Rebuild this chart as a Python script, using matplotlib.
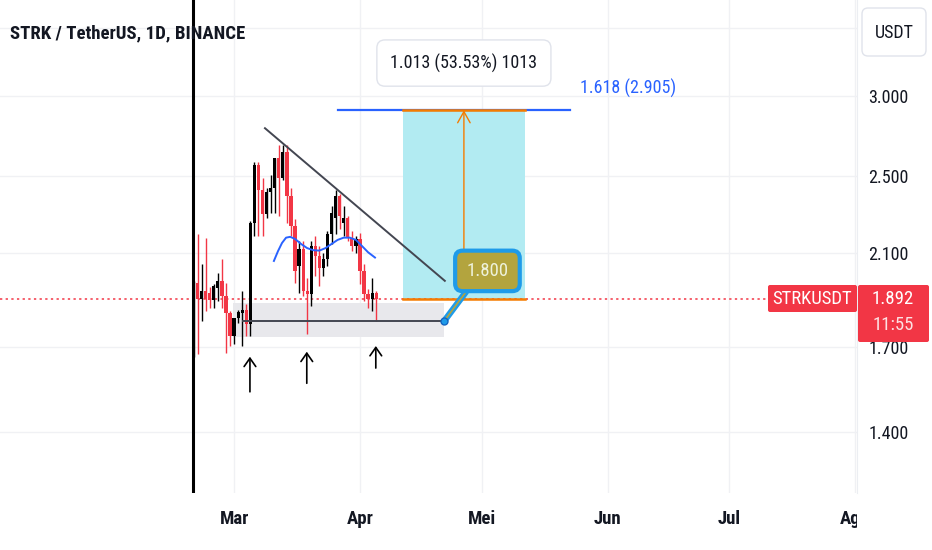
import numpy as np
import pandas as pd
import matplotlib
matplotlib.use("Agg")
import matplotlib.pyplot as plt
import matplotlib.dates as mdates
from matplotlib.patches import FancyBboxPatch, Rectangle
from matplotlib.ticker import NullLocator, NullFormatter
from matplotlib.transforms import Affine2D, Bbox, TransformedBbox

plt.rcParams['font.family'] = ['Roboto Condensed', 'DejaVu Sans']

# daily STRK/USDT candles, 20 Feb .. 5 Apr 2024
first_day = "2024-02-20"
opens = [1.667, 1.964, 1.894, 1.928, 1.919, 1.889, 1.941, 1.973, 1.906, 1.833,
         1.740, 1.813, 1.833, 1.846, 1.789, 2.252, 2.564, 2.422, 2.298, 2.411,
         2.433, 2.605, 2.489, 2.641, 2.394, 2.236, 2.041, 2.122, 1.928, 1.915,
         2.137, 2.088, 2.032, 2.074, 2.196, 2.277, 2.394, 2.252, 2.277, 2.176,
         2.137, 2.171, 2.018, 1.915, 1.894, 1.919]
highs = [1.973, 2.196, 2.051, 2.176, 1.946, 1.959, 2.009, 2.074, 1.964, 1.842,
         1.813, 1.846, 1.928, 1.872, 2.262, 2.581, 2.581, 2.494, 2.433, 2.506,
         2.605, 2.683, 2.683, 2.683, 2.438, 2.272, 2.161, 2.161, 1.986, 2.161,
         2.186, 2.137, 2.103, 2.211, 2.340, 2.422, 2.405, 2.340, 2.288, 2.211,
         2.186, 2.201, 2.051, 1.937, 1.986, 1.928]
lows = [1.659, 1.671, 1.801, 1.842, 1.855, 1.855, 1.885, 1.855, 1.674, 1.701,
        1.709, 1.793, 1.701, 1.740, 1.740, 2.186, 2.186, 2.186, 2.277, 2.303,
        2.303, 2.288, 2.478, 2.252, 2.186, 1.964, 1.919, 1.906, 1.748, 1.863,
        1.995, 1.950, 1.995, 2.041, 2.146, 2.196, 2.221, 2.186, 2.161, 2.112,
        2.103, 1.959, 1.885, 1.855, 1.842, 1.801]
closes = [1.964, 1.894, 1.928, 1.894, 1.889, 1.950, 1.973, 1.906, 1.833, 1.740,
          1.813, 1.838, 1.846, 1.789, 2.252, 2.564, 2.422, 2.298, 2.411, 2.433,
          2.605, 2.489, 2.641, 2.394, 2.236, 2.018, 2.122, 1.928, 1.915, 2.137,
          2.088, 2.032, 2.074, 2.196, 2.303, 2.394, 2.288, 2.277, 2.176, 2.137,
          2.171, 2.018, 1.915, 1.894, 1.919, 1.892]
last_price = 1.892
countdown = "11:55"

# axis
price_ticks = [1.4, 1.7, 2.1, 2.5, 3.0, 3.5]
price_labels = ["1.400", "1.700", "2.100", "2.500", "3.000", ""]
month_starts = ["2024-03-01", "2024-04-01", "2024-05-01", "2024-06-01", "2024-07-01", "2024-08-01"]
month_labels = ["Mar", "Apr", "Mei", "Jun", "Jul", "Agu"]

# drawings, x in days after first_day
trend_x = [17.6, 61.9]
trend_y = [2.789, 1.973]
curve_x = [19.8, 20.8, 21.8, 22.8, 23.8, 25.0, 26.5, 28.0, 29.5, 31.0,
           32.5, 34.0, 35.5, 37.0, 38.5, 40.0, 41.5, 43.0, 44.7]
curve_y = [2.064, 2.110, 2.150, 2.176, 2.180, 2.170, 2.145, 2.125, 2.115, 2.113,
           2.125, 2.145, 2.165, 2.176, 2.176, 2.165, 2.135, 2.105, 2.080]
zone_x = [9.7, 61.6]
zone_y = [1.738, 1.877]
support_x = [12.2, 61.6]
support_y = 1.800
arrow_x = [13.9, 27.9, 44.9]
arrow_tail = [1.534, 1.564, 1.619]
arrow_head = [1.661, 1.680, 1.702]
vline_x = -0.2
long_x = [51.6, 81.7]
long_mid = 66.6
entry, target = 1.892, 2.905
fib_x = [35.6, 92.7]
fib_label = "1.618 (2.905)"
fib_label_pos = (95.2, 3.055)
measure_label = "1.013 (53.53%) 1013"
measure_pos = (66.6, 3.233)
callout_text = "1.800"
callout_pos = (72.4, 2.018)
callout_tail = ([67.1, 61.7], [1.924, 1.800])

RED = "#f23645"
TXT = "#131722"
FS = 13

fig = plt.figure(figsize=(9.32, 5.5), dpi=100)
ax = fig.add_axes([0, 57 / 550, 857 / 932, 493 / 550])

t0 = mdates.date2num(pd.Timestamp(first_day))
x = t0 + np.arange(len(opens))
o, h, l, c = map(np.array, (opens, highs, lows, closes))
up = c >= o
cols = np.where(up, "#000000", RED)

ax.set_yscale("log")
ax.set_ylim(1.2195, 3.730)
ax.set_xlim(t0 - 47.66, t0 + 163.42)

ax.vlines(x, l, h, colors=cols, lw=1.0, zorder=3)
ax.bar(x, np.maximum(np.abs(c - o), 0.004), bottom=np.minimum(o, c), width=0.8,
       color=cols, lw=0, zorder=3)

# support zone + lines
ax.add_patch(Rectangle((t0 + zone_x[0], zone_y[0]), zone_x[1] - zone_x[0],
                       zone_y[1] - zone_y[0], fc="#e8e8ec", ec="none", zorder=1))
ax.plot([t0 + v for v in support_x], [support_y] * 2, color="#434651", lw=1.4, zorder=4)
ax.plot([t0 + v for v in trend_x], trend_y, color="#434651", lw=1.4, zorder=4)
ax.plot([t0 + v for v in curve_x], curve_y, color="#2962ff", lw=1.4, zorder=4)
ax.axvline(t0 + vline_x, color="black", lw=2.2, zorder=5)
ax.axhline(last_price, color=RED, lw=1.1, ls=(0, (1.5, 2.2)), zorder=2)

for xa, tl, hd in zip(arrow_x, arrow_tail, arrow_head):
    ax.annotate("", xy=(t0 + xa, hd), xytext=(t0 + xa, tl),
                arrowprops=dict(arrowstyle="->,head_length=0.6,head_width=0.42",
                                color="black", lw=1.2, shrinkA=0, shrinkB=0))

# long position tool
ax.add_patch(Rectangle((t0 + long_x[0], entry), long_x[1] - long_x[0], target - entry,
                       fc="#b2ebf2", ec="none", zorder=1))
ax.plot([t0 + v for v in fib_x], [target] * 2, color="#2962ff", lw=1.6, zorder=4)
ax.plot([t0 + v for v in long_x], [target] * 2, color="#f57c00", lw=1.8, zorder=5)
ax.plot([t0 + v for v in long_x], [entry] * 2, color="#f57c00", lw=1.8, zorder=5)
ax.annotate("", xy=(t0 + long_mid, target), xytext=(t0 + long_mid, entry),
            arrowprops=dict(arrowstyle="->,head_length=0.8,head_width=0.45",
                            color="#f57c00", lw=1, shrinkA=0, shrinkB=0), zorder=5)
ax.text(t0 + measure_pos[0], measure_pos[1], measure_label, ha="center", va="center",
        fontsize=FS, color=TXT, zorder=6,
        bbox=dict(boxstyle="round,pad=0.75,rounding_size=0.45", fc="white", ec="#e0e3eb"))
ax.text(t0 + fib_label_pos[0], fib_label_pos[1], fib_label, ha="left", va="center",
        fontsize=FS, color="#2962ff", zorder=6)

# callout
ax.plot([t0 + v for v in callout_tail[0]], callout_tail[1], color="#1e9be9", lw=4.5,
        solid_capstyle="round", zorder=6)
ax.plot([t0 + v for v in callout_tail[0]], callout_tail[1], color="#b3a43e", lw=1.2, zorder=6)
ax.plot(t0 + callout_tail[0][1], callout_tail[1][1], "o", ms=5, mfc="#1e9be9",
        mec="#1565c0", zorder=7)
ax.text(t0 + callout_pos[0], callout_pos[1], callout_text, ha="center", va="center",
        fontsize=13.5, color="#eef2dc", zorder=7,
        bbox=dict(boxstyle="round,pad=0.6,rounding_size=0.4", fc="#b3a43e",
                  ec="#1e9be9", lw=3))

# axes styling
for s in ("top", "left", "bottom"):
    ax.spines[s].set_visible(False)
ax.spines["right"].set_color("#eceef2")
ax.yaxis.tick_right()
ax.set_yticks(price_ticks)
ax.set_yticklabels(price_labels)
ax.yaxis.set_minor_locator(NullLocator())
ax.yaxis.set_minor_formatter(NullFormatter())
ax.tick_params(axis="y", length=0, pad=8, labelsize=FS, labelcolor=TXT)
ax.set_xticks([mdates.date2num(pd.Timestamp(m)) for m in month_starts])
ax.set_xticklabels(month_labels, fontweight="bold")
ax.tick_params(axis="x", length=0, pad=12, labelsize=FS + 0.5, labelcolor=TXT)
ax.grid(True, color="#f0f1f4", lw=1, zorder=0)
ax.set_axisbelow(True)
clip = TransformedBbox(Bbox([[0, 0], [857 / 932, 1]]), fig.transFigure)
last = ax.get_xticklabels()[-1]
last.set_clip_on(True)
last.set_clip_box(clip)

# title and price scale widgets, in pixels
px = Affine2D().scale(1 / 932, 1 / 550) + fig.transFigure
fig.text(10, 550 - 33, "STRK / TetherUS, 1D, BINANCE", transform=px, fontsize=13.5,
         fontweight="bold", va="center", color=TXT, zorder=10)
fig.patches.append(FancyBboxPatch((862, 494), 64, 48, boxstyle="round,pad=0,rounding_size=6",
                                  fc="white", ec="#e0e3eb", lw=1, transform=px, zorder=10))
fig.text(894, 550 - 33, "USDT", transform=px, fontsize=FS, ha="center", va="center",
         color=TXT, zorder=11)
fig.patches.append(FancyBboxPatch((768, 550 - 312), 89, 27, boxstyle="round,pad=0,rounding_size=2",
                                  fc=RED, ec="none", transform=px, zorder=10))
fig.text(812.5, 550 - 298.5, "STRKUSDT", transform=px, fontsize=FS + 0.5, ha="center",
         va="center", color="white", zorder=11)
fig.patches.append(FancyBboxPatch((858, 550 - 342), 71, 57, boxstyle="round,pad=0,rounding_size=2",
                                  fc=RED, ec="none", transform=px, zorder=10))
fig.text(893, 550 - 298.5, f"{last_price:.3f}", transform=px, fontsize=FS + 0.5, ha="center",
         va="center", color="white", zorder=11)
fig.text(893, 550 - 325, countdown, transform=px, fontsize=FS + 0.5, ha="center", va="center",
         color="white", alpha=0.85, zorder=11)

fig.savefig("out.png", dpi=100)
